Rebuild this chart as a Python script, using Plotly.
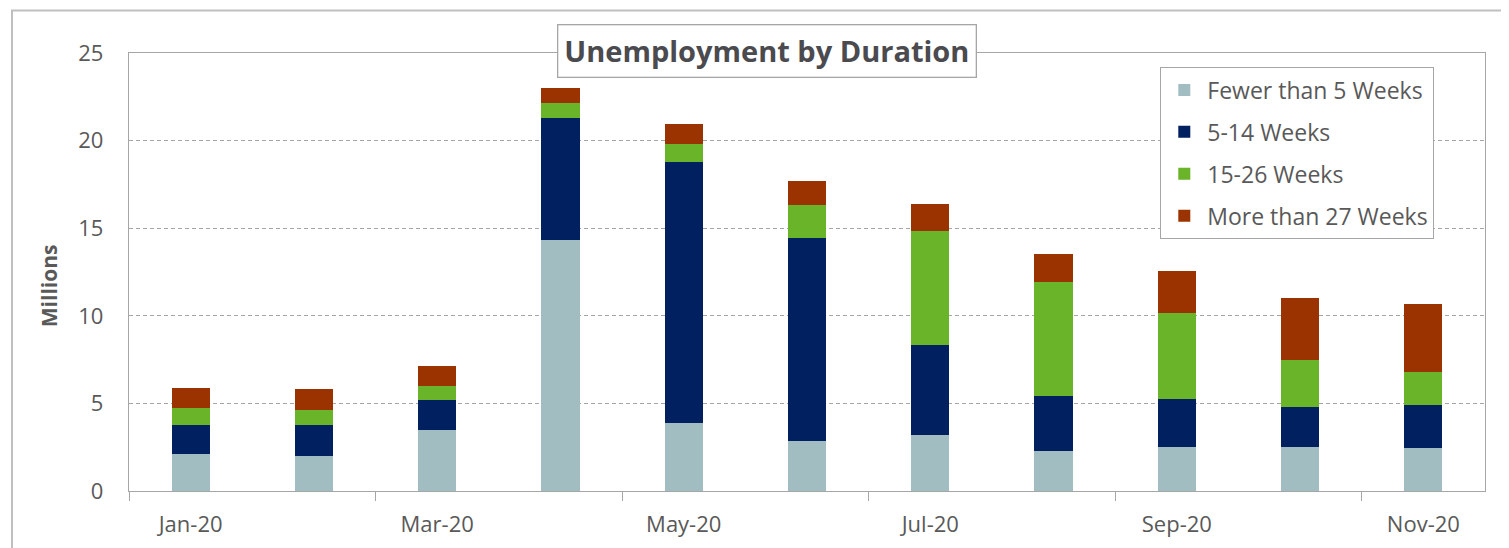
import plotly.graph_objects as go

months = ["Jan-20", "Feb-20", "Mar-20", "Apr-20", "May-20", "Jun-20",
          "Jul-20", "Aug-20", "Sep-20", "Oct-20", "Nov-20"]
fewer_than_5 = [2.09, 2.01, 3.48, 14.31, 3.88, 2.85, 3.19, 2.30, 2.51, 2.51, 2.43]
weeks_5_14 = [1.69, 1.77, 1.71, 6.99, 14.88, 11.57, 5.17, 3.10, 2.74, 2.26, 2.47]
weeks_15_26 = [0.93, 0.84, 0.81, 0.84, 1.02, 1.93, 6.46, 6.53, 4.90, 2.70, 1.88]
more_than_27 = [1.16, 1.20, 1.11, 0.85, 1.16, 1.36, 1.54, 1.58, 2.39, 3.55, 3.92]

series = [
    ("Fewer than 5 Weeks", fewer_than_5, "#A2BDC1"),
    ("5-14 Weeks", weeks_5_14, "#00205F"),
    ("15-26 Weeks", weeks_15_26, "#6AB42A"),
    ("More than 27 Weeks", more_than_27, "#9A3300"),
]

FONT = "Open Sans"
TXT = "#595959"
LINE = "#A6A6A6"

OFF = 8  # page body margin
W, H = 1509 - OFF, 548 - OFF
L, R, T, B = 129 - OFF, 1485 - OFF, 52.5 - OFF, 491 - OFF
pw, ph = R - L, B - T


def px(x):
    return (x - OFF - L) / pw


def py(y):
    return (B - (y - OFF)) / ph


fig = go.Figure()
for i, (name, vals, color) in enumerate(series):
    fig.add_trace(go.Bar(
        x=months, y=vals, name=name, marker=dict(color=color, line=dict(width=0)),
        legendgroup=f"g{i}",
    ))

fig.update_layout(
    width=W, height=H,
    margin=dict(l=L, r=W - R, t=T, b=H - B, autoexpand=False),
    barmode="stack", bargap=0.69,
    plot_bgcolor="white", paper_bgcolor="white",
    font=dict(family=FONT, color=TXT, size=22),
    showlegend=True,
    legend=dict(
        x=px(1160), y=py(66.7), xanchor="left", yanchor="top",
        bgcolor="white", bordercolor=LINE, borderwidth=1.3,
        font=dict(family=FONT, size=23, color=TXT),
        tracegroupgap=9, traceorder="grouped", itemwidth=36,
    ),
    xaxis=dict(
        type="category", tickmode="linear", tick0=0, dtick=2,
        tickson="boundaries", ticks="outside", ticklen=9, tickcolor=LINE,
        showline=True, linecolor=LINE, linewidth=1.3, mirror=True,
        showgrid=False, tickfont=dict(size=22, color=TXT),
        ticklabelstandoff=13,
    ),
    yaxis=dict(
        range=[0, 25], tickmode="linear", tick0=0, dtick=5,
        showline=True, linecolor=LINE, linewidth=1.3, mirror=True,
        showgrid=True, gridcolor=LINE, griddash="4px,3px", gridwidth=1,
        zeroline=False, ticks="", tickfont=dict(size=22, color=TXT),
        ticklabelstandoff=20,
    ),
    shapes=[
        dict(type="rect", xref="paper", yref="paper",
             x0=px(12), x1=px(1530), y0=py(570), y1=py(10),
             line=dict(color="#BFBFBF", width=2), fillcolor="rgba(0,0,0,0)", layer="below"),
    ],
    annotations=[
        dict(text="<b>Unemployment by Duration</b>", xref="paper", yref="paper",
             x=px(767), y=py(50.5), xanchor="center", yanchor="middle",
             showarrow=False, font=dict(family=FONT, size=29, color="#4A4A4F"),
             bgcolor="white", bordercolor=LINE, borderwidth=1.3, borderpad=6),
        dict(text="<b>Millions</b>", xref="paper", yref="paper",
             x=px(49), y=py(286), xanchor="center", yanchor="middle", textangle=-90,
             showarrow=False, font=dict(family=FONT, size=21, color=TXT)),
    ],
)

fig.write_html("out.html")
